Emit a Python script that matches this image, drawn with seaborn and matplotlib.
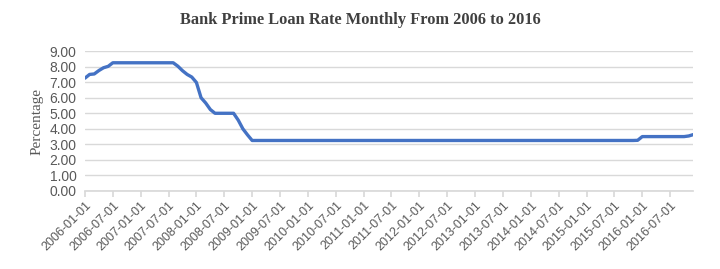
import numpy as np
import pandas as pd
import matplotlib
matplotlib.use("Agg")
import matplotlib.pyplot as plt
import seaborn as sns

# Monthly bank prime loan rate, 2006-01 .. 2016-12
rates_2006 = [7.26, 7.50, 7.53, 7.75, 7.93, 8.02, 8.25, 8.25, 8.25, 8.25, 8.25, 8.25]
rates_2007 = [8.25, 8.25, 8.25, 8.25, 8.25, 8.25, 8.25, 8.25, 8.03, 7.74, 7.50, 7.33]
rates_2008 = [6.98, 6.00, 5.66, 5.24, 5.00, 5.00, 5.00, 5.00, 5.00, 4.56, 4.00, 3.61]
rates_2009_2015 = [3.25] * 83
rates_2015_dec = [3.26]
rates_2016 = [3.50, 3.50, 3.50, 3.50, 3.50, 3.50, 3.50, 3.50, 3.50, 3.50, 3.54, 3.63]
rates = rates_2006 + rates_2007 + rates_2008 + rates_2009_2015 + rates_2015_dec + rates_2016

months = pd.date_range("2006-01-01", periods=len(rates), freq="MS")
month_labels = [d.strftime("%Y-%m-%d") for d in months]
y_ticks = [0, 1, 2, 3, 4, 5, 6, 7, 8, 9]

df = pd.DataFrame({"idx": np.arange(len(rates)), "rate": rates})

sns.set_theme(style="white")
plt.rcParams["font.family"] = ["Liberation Sans", "DejaVu Sans"]

fig = plt.figure(figsize=(7.2, 2.69), dpi=100)
ax = fig.add_axes([0.118, 0.29, 0.845, 0.52])

sns.lineplot(data=df, x="idx", y="rate", ax=ax, color="#4472C4", linewidth=2.4)

ax.set_xlim(0, len(rates) - 1)
ax.set_ylim(0, 9)
ax.set_yticks(y_ticks)
ax.set_yticklabels([f"{v:.2f}" for v in y_ticks], fontsize=10, color="#595959")
tick_pos = list(range(0, len(rates), 6))
ax.set_xticks(tick_pos)
ax.set_xticklabels([month_labels[i] for i in tick_pos], rotation=45, ha="right",
                   rotation_mode="anchor", fontsize=9, color="#595959")
ax.yaxis.grid(True, color="#d9d9d9", linewidth=1)
ax.xaxis.grid(False)
for s in ["top", "right", "left"]:
    ax.spines[s].set_visible(False)
ax.spines["bottom"].set_color("#d9d9d9")
ax.tick_params(axis="x", which="both", bottom=True, length=4, color="#d9d9d9", pad=2)
ax.tick_params(axis="y", length=0, pad=6)
ax.set_xlabel("")
ax.set_ylabel("Percentage", family=["Liberation Serif", "DejaVu Serif"], fontsize=11, color="#595959")
fig.suptitle("Bank Prime Loan Rate Monthly From 2006 to 2016",
             family=["Liberation Serif", "DejaVu Serif"], fontweight="bold",
             fontsize=11.8, color="#404040", y=0.955)

fig.savefig("out.png", dpi=100)
